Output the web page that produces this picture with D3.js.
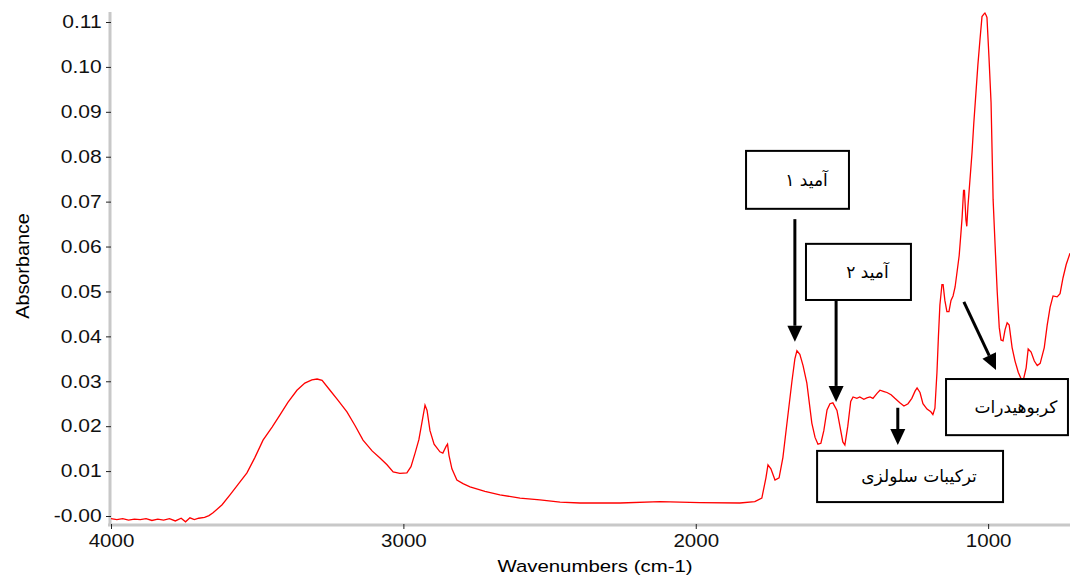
<!DOCTYPE html>
<html>
<head>
<meta charset="utf-8">
<script src="https://cdn.jsdelivr.net/npm/d3@7.9.0/dist/d3.min.js"></script>
<style>
  body { margin: 0; background: #fff; }
  svg { display: block; }
  .tick text { font-family: "Liberation Sans", Arial, sans-serif; }
</style>
</head>
<body>
<svg width="1070" height="577"></svg>
<script>
// spectrum (cm-1 / absorbance)
const wavenumbers = [
  4000, 3980, 3960, 3940, 3920, 3900, 3880, 3860, 3840, 3820, 3800, 3780, 3760, 3745, 3730, 3715, 3700, 3680, 3665,
  3651, 3620, 3593, 3566, 3535, 3508, 3480, 3449, 3422, 3395, 3364, 3337, 3313, 3295, 3278, 3251, 3224, 3193, 3166,
  3138, 3107, 3080, 3056, 3035, 3012, 2988, 2974, 2960, 2947, 2936, 2926, 2919, 2909, 2895, 2875, 2865, 2854, 2849,
  2844, 2834, 2817, 2796, 2772, 2721, 2670, 2601, 2533, 2464, 2396, 2259, 2122, 1986, 1849, 1798, 1774, 1760, 1753,
  1743, 1729, 1715, 1702, 1688, 1671, 1661, 1654, 1644, 1633, 1620, 1603, 1592, 1582, 1572, 1562, 1551, 1541, 1531,
  1517, 1507, 1497, 1490, 1480, 1470, 1462, 1449, 1439, 1425, 1415, 1404, 1394, 1380, 1370, 1356, 1346, 1332, 1319,
  1302, 1288, 1274, 1261, 1250, 1243, 1233, 1223, 1209, 1196, 1189, 1182, 1175, 1170, 1165, 1158, 1154, 1148, 1141,
  1134, 1127, 1120, 1113, 1106, 1099, 1093, 1089, 1084, 1081, 1076, 1073, 1069, 1062, 1055, 1049, 1042, 1035, 1028,
  1021, 1014, 1011, 1007, 1004, 997, 990, 983, 976, 969, 962, 956, 949, 942, 935, 928, 918, 908, 897, 887, 880,
  870, 863, 853, 842, 832, 822, 808, 798, 788, 778, 764, 754, 744, 733, 720
];
const absorbance = [
  -0.0006, -0.0008, -0.0006, -0.0009, -0.0007, -0.0008, -0.0006, -0.0010, -0.0007, -0.0009, -0.0006, -0.0011, -0.0005, -0.0013, -0.0004, -0.0008, -0.0005, -0.0003, 0.0001,
  0.0007, 0.0025, 0.0047, 0.0070, 0.0096, 0.0130, 0.0169, 0.0198, 0.0225, 0.0253, 0.0280, 0.0296, 0.0303, 0.0305, 0.0302, 0.0280, 0.0258, 0.0232, 0.0202,
  0.0169, 0.0145, 0.0129, 0.0114, 0.0098, 0.0095, 0.0096, 0.0110, 0.0140, 0.0170, 0.0210, 0.0247, 0.0235, 0.0190, 0.0160, 0.0143, 0.0140, 0.0155, 0.0160,
  0.0135, 0.0105, 0.0080, 0.0072, 0.0065, 0.0055, 0.0047, 0.0040, 0.0036, 0.0031, 0.0029, 0.0029, 0.0032, 0.0030, 0.0029, 0.0032, 0.0040, 0.0085, 0.0114,
  0.0105, 0.0080, 0.0085, 0.0130, 0.0207, 0.0300, 0.0350, 0.0368, 0.0360, 0.0335, 0.0296, 0.0207, 0.0175, 0.0160, 0.0162, 0.0190, 0.0236, 0.0250, 0.0252,
  0.0235, 0.0200, 0.0165, 0.0158, 0.0200, 0.0255, 0.0265, 0.0262, 0.0265, 0.0260, 0.0263, 0.0265, 0.0262, 0.0273, 0.0280, 0.0277, 0.0275, 0.0270, 0.0262,
  0.0252, 0.0245, 0.0250, 0.0262, 0.0278, 0.0285, 0.0275, 0.0250, 0.0238, 0.0232, 0.0226, 0.0240, 0.0320, 0.0400, 0.0470, 0.0515, 0.0515, 0.0480, 0.0455,
  0.0455, 0.0480, 0.0490, 0.0510, 0.0545, 0.0580, 0.0630, 0.0665, 0.0725, 0.0725, 0.0660, 0.0645, 0.0690, 0.0750, 0.0810, 0.0875, 0.0940, 0.1005, 0.1060,
  0.1112, 0.1118, 0.1120, 0.1115, 0.1110, 0.1020, 0.0920, 0.0705, 0.0600, 0.0500, 0.0420, 0.0392, 0.0390, 0.0415, 0.0430, 0.0425, 0.0375, 0.0345, 0.0320, 0.0305, 0.0302,
  0.0330, 0.0372, 0.0365, 0.0345, 0.0335, 0.0340, 0.0375, 0.0425, 0.0465, 0.0490, 0.0488, 0.0495, 0.0530, 0.0560, 0.0585
];

const xMajor = [4000, 3000, 2000, 1000];
const xMinor = d3.range(4000, 700, -200);
const yMajor = [0, 0.01, 0.02, 0.03, 0.04, 0.05, 0.06, 0.07, 0.08, 0.09, 0.10, 0.11];
const yMinor = d3.range(0, 0.1125, 0.002);

// annotations: box corners and arrow in data units
const notes = [
  { label: "آمید ۱", box: [1828, 0.0813, 1476, 0.0684], arrow: [1661, 0.0661, 1661, 0.0388] },
  { label: "آمید ۲", box: [1623, 0.0606, 1264, 0.0481], arrow: [1520, 0.0481, 1520, 0.0254] },
  { label: "ترکیبات سلولزی", box: [1585, 0.0145, 949, 0.0031], arrow: [1309, 0.0241, 1309, 0.0158] },
  { label: "کربوهیدرات", box: [1144, 0.0305, 727, 0.0180], arrow: [1083, 0.0477, 973, 0.0325] }
];

const svg = d3.select("svg");
const x = d3.scaleLinear().domain([4000, 720]).range([111, 1070]);
const y = d3.scaleLinear().domain([0, 0.11]).range([516, 22]);

// axis lines (grey bars)
svg.append("line").attr("x1", 110).attr("x2", 110).attr("y1", 12).attr("y2", 526)
  .attr("stroke", "#c8c8c8").attr("stroke-width", 3);
svg.append("line").attr("x1", 108).attr("x2", 1070).attr("y1", 525).attr("y2", 525)
  .attr("stroke", "#c8c8c8").attr("stroke-width", 3);

// y axis
let gy = svg.append("g").attr("transform", "translate(111,0)");
gy.call(d3.axisLeft(y).tickValues(yMinor).tickSize(3).tickFormat(""));
gy.call(d3.axisLeft(y).tickValues(yMajor).tickSize(5).tickPadding(3)
  .tickFormat(d => d === 0 ? "-0.00" : d3.format(".2f")(d)));
gy.selectAll(".domain").remove();
gy.selectAll("text").attr("font-size", 18).attr("fill", "#111")
  .attr("transform", "scale(1.17,1)");
gy.selectAll("line").attr("stroke", "#222");

// x axis
let gx = svg.append("g").attr("transform", "translate(0,524)");
gx.call(d3.axisBottom(x).tickValues(xMinor).tickSize(3).tickFormat(""));
gx.call(d3.axisBottom(x).tickValues(xMajor).tickSize(5).tickPadding(5).tickFormat(d3.format("d")));
gx.selectAll(".domain").remove();
gx.selectAll("text").attr("font-size", 19).attr("fill", "#111")
  .attr("transform", "scale(1.08,1)");
gx.selectAll("line").attr("stroke", "#222");

// axis titles
svg.append("text").attr("transform", "translate(595,572) scale(1.2,1)").attr("text-anchor", "middle")
  .attr("font-family", "Liberation Sans, Arial, sans-serif").attr("font-size", 17)
  .text("Wavenumbers (cm-1)");
svg.append("text").attr("transform", "translate(29,266) rotate(-90) scale(1.1,1)").attr("text-anchor", "middle")
  .attr("font-family", "Liberation Sans, Arial, sans-serif").attr("font-size", 18)
  .text("Absorbance");

// spectrum
const spectrum = d3.zip(wavenumbers, absorbance);
svg.append("path").datum(spectrum)
  .attr("fill", "none").attr("stroke", "#ff0000").attr("stroke-width", 1.3)
  .attr("d", d3.line().x(d => x(d[0])).y(d => y(d[1])));

// annotation boxes and arrows
notes.forEach(n => {
  let [w0, a0, w1, a1] = n.box;
  let bx = x(w0), by = y(a0), bw = x(w1) - x(w0), bh = y(a1) - y(a0);
  svg.append("rect").attr("x", bx).attr("y", by).attr("width", bw).attr("height", bh)
    .attr("fill", "#fff").attr("stroke", "#000").attr("stroke-width", 2);
  svg.append("text").attr("x", bx + bw / 2 + 9).attr("y", by + bh / 2 + 6)
    .attr("text-anchor", "middle").attr("font-family", "DejaVu Sans, sans-serif")
    .attr("font-size", 17).attr("direction", "rtl").text(n.label);

  let [sw, sa, ew, ea] = n.arrow;
  let x1 = x(sw), y1 = y(sa), x2 = x(ew), y2 = y(ea);
  let ang = Math.atan2(y2 - y1, x2 - x1);
  let len = 16, half = 7.5;
  let bxp = x2 - len * Math.cos(ang), byp = y2 - len * Math.sin(ang);
  svg.append("line").attr("x1", x1).attr("y1", y1).attr("x2", bxp).attr("y2", byp)
    .attr("stroke", "#000").attr("stroke-width", 3);
  let pts = [
    [x2, y2],
    [bxp + half * Math.sin(ang), byp - half * Math.cos(ang)],
    [bxp - half * Math.sin(ang), byp + half * Math.cos(ang)]
  ];
  svg.append("polygon").attr("points", pts.map(p => p.join(",")).join(" ")).attr("fill", "#000");
});
</script>
</body>
</html>
